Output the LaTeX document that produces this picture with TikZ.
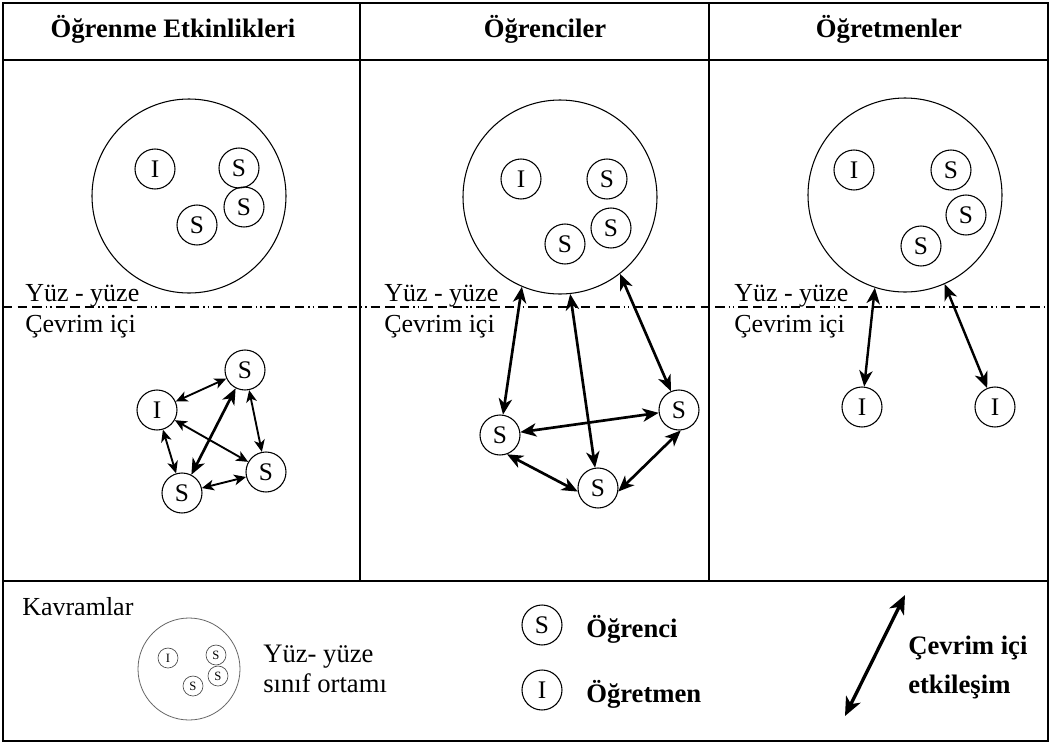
\documentclass[tikz,border=0pt]{standalone}
\usepackage{fontspec}
\setmainfont{Liberation Serif}
\usetikzlibrary{arrows.meta}

\tikzset{
  rule/.style={line width=2.2pt},
  split/.style={line width=1.6pt,dash pattern=on 7pt off 4pt on 7pt off 4pt on 7pt off 3pt on 1.2pt off 2pt on 1.2pt off 3pt},
  room/.style={circle,draw,line width=0.8pt,minimum size=145.5pt,inner sep=0pt},
  pers/.style={circle,draw,line width=0.8pt,minimum size=30pt,inner sep=0pt,font=\fontsize{19}{19}\selectfont},
  keyroom/.style={circle,draw=black!60,line width=0.6pt,minimum size=76.5pt,inner sep=0pt},
  keypers/.style={circle,draw=black!70,line width=0.5pt,minimum size=15pt,inner sep=0pt,font=\fontsize{9.5}{9.5}\selectfont},
  head/.style={font=\fontsize{20}{24}\selectfont\bfseries,anchor=base,inner sep=0pt},
  lbl/.style={font=\fontsize{19.5}{24}\selectfont,anchor=base west,inner sep=0pt},
  keylbl/.style={font=\fontsize{20}{24}\selectfont\bfseries,anchor=base west,inner sep=0pt},
  tipL/.tip={Stealth[length=9pt,width=8pt,inset=2.5pt]},
  tipM/.tip={Stealth[length=12pt,width=10pt,inset=3.5pt]},
  tipK/.tip={Stealth[length=14pt,width=12pt,inset=4pt]},
  linkL/.style={line width=1.4pt,tipL-tipL},
  linkLT/.style={line width=2pt,tipM-tipM},
  linkM/.style={line width=2pt,tipM-tipM},
  linkR/.style={line width=1.8pt,tipM-tipM},
  linkK/.style={line width=2.5pt,tipK-tipK},
}

\begin{document}
\begin{tikzpicture}[x=0.75pt,y=-0.75pt]
\useasboundingbox (0,0) rectangle (1051,744);

% table frame
\draw[rule] (3,3) rectangle (1048,741);
\draw[rule] (3,60) -- (1048,60);
\draw[rule] (3,581) -- (1048,581);
\draw[rule] (360,3) -- (360,581);
\draw[rule] (709,3) -- (709,581);

% column headings
\node[head] (h1) at (173,37) {Öğrenme Etkinlikleri};
\node[head] (h2) at (545,37) {Öğrenciler};
\node[head] (h3) at (889,37) {Öğretmenler};

% face-to-face / online boundary
\draw[split] (3,307) -- (1048,307);
\node[lbl] (y1) at (25,301) {Yüz - yüze};
\node[lbl] (c1) at (25,332) {Çevrim içi};
\node[lbl] (y2) at (384,301) {Yüz - yüze};
\node[lbl] (c2) at (384,332) {Çevrim içi};
\node[lbl] (y3) at (734,301) {Yüz - yüze};
\node[lbl] (c3) at (734,332) {Çevrim içi};

% classrooms
\node[room] (bigL) at (189,196) {};
\node[pers] (aI) at (155,169) {I};
\node[pers] (aS1) at (239,168) {S};
\node[pers] (aS2) at (244,207) {S};
\node[pers] (aS3) at (197,225) {S};

\node[room] (bigM) at (560,197) {};
\node[pers] (bI) at (521,179) {I};
\node[pers] (bS1) at (607,179) {S};
\node[pers] (bS2) at (611,228) {S};
\node[pers] (bS3) at (565,244) {S};

\node[room] (bigR) at (905,195) {};
\node[pers] (cI) at (854,170) {I};
\node[pers] (cS1) at (951,170) {S};
\node[pers] (cS2) at (966,215) {S};
\node[pers] (cS3) at (921,246) {S};

% online: learning activities
\node[pers] (lI) at (157,410) {I};
\node[pers] (lS1) at (245,370) {S};
\node[pers] (lS2) at (266,472) {S};
\node[pers] (lS3) at (182,493) {S};
\draw[linkL] (lI) -- (lS1);
\draw[linkL] (lI) -- (lS3);
\draw[linkL] (lI) -- (lS2);
\draw[linkL] (lS1) -- (lS2);
\draw[linkL] (lS2) -- (lS3);
\draw[linkLT] (lS1) -- (lS3);

% online: students
\node[pers] (mSL) at (500,435) {S};
\node[pers] (mSR) at (679,410) {S};
\node[pers] (mSB) at (598,488) {S};
\draw[linkM] (bigM.247) -- (mSL);
\draw[linkM] (bigM.276) -- (mSB);
\draw[linkM] (bigM.308) -- (mSR);
\draw[linkM] (mSL) -- (mSR);
\draw[linkM] (mSL.-70) -- (mSB.190);
\draw[linkM] (mSB.-10) -- (mSR.-85);

% online: teachers
\node[pers] (rI1) at (862,407) {I};
\node[pers] (rI2) at (995,407) {I};
\draw[linkR] (bigR.252) -- (rI1);
\draw[linkR] (bigR.294) -- (rI2);

% key
\node[lbl] (kv) at (22,615) {Kavramlar};
\node[keyroom] (kroom) at (189,669) {};
\node[keypers] (kI) at (168,658) {I};
\node[keypers] (kS1) at (216,655) {S};
\node[keypers] (kS2) at (218,676) {S};
\node[keypers] (kS3) at (193,686) {S};
\node[lbl,font=\fontsize{20}{24}\selectfont] (kf1) at (263,662) {Yüz- yüze};
\node[lbl,font=\fontsize{20}{24}\selectfont] (kf2) at (263,692) {sınıf ortamı};

\node[pers] (kS) at (542,625) {S};
\node[keylbl] (kSt) at (586,637) {Öğrenci};
\node[pers] (kT) at (542,690) {I};
\node[keylbl] (kTt) at (586,702) {Öğretmen};

\coordinate (ka) at (845,716);
\coordinate (kb) at (905,595);
\draw[linkK] (ka) -- (kb);
\node[keylbl] (ko1) at (908,654) {Çevrim içi};
\node[keylbl] (ko2) at (908,693) {etkileşim};
\end{tikzpicture}
\end{document}
